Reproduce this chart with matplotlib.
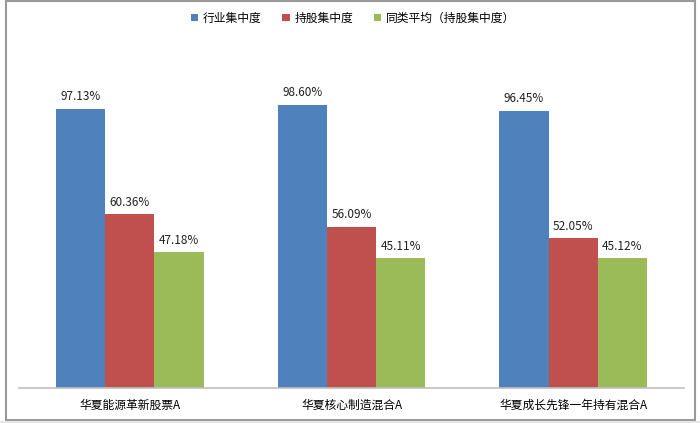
import numpy as np
import matplotlib
matplotlib.use('Agg')
import matplotlib.pyplot as plt
from matplotlib.patches import Rectangle

plt.rcParams['font.family'] = ['Noto Sans CJK SC', 'DejaVu Sans']

funds = ['华夏能源革新股票A', '华夏核心制造混合A', '华夏成长先锋一年持有混合A']
series = ['行业集中度', '持股集中度', '同类平均（持股集中度）']
industry = [97.13, 98.60, 96.45]
holding = [60.36, 56.09, 52.05]
peer_avg = [47.18, 45.11, 45.12]
colors = ['#4F81BD', '#C0504D', '#9BBB59']

W, H = 700, 423
fig = plt.figure(figsize=(W / 100, H / 100), dpi=100)
ax = fig.add_axes([19 / W, 1 - 388 / H, (684 - 19) / W, (388 - 43) / H])

x = np.arange(len(funds))
w = 0.222
for i, (vals, c, name) in enumerate(zip([industry, holding, peer_avg], colors, series)):
    bars = ax.bar(x + (i - 1) * w, vals, w, color=c, label=name)
    for b, v in zip(bars, vals):
        ax.text(b.get_x() + b.get_width() / 2, v + 2, '%.2f%%' % v,
                ha='center', va='bottom', fontsize=8.5, color='#222222')

ax.set_xlim(-0.5, 2.5)
ax.set_ylim(0, 120)
ax.set_yticks([])
ax.set_xticks(x)
ax.set_xticklabels(funds, fontsize=8.5)
ax.tick_params(axis='x', length=0, pad=8)
for s in ['top', 'right', 'left']:
    ax.spines[s].set_visible(False)
ax.spines['bottom'].set_color('#BFBFBF')
ax.spines['bottom'].set_linewidth(1.2)

leg = fig.legend(loc='center', bbox_to_anchor=(353 / W, 1 - 18 / H), ncol=3,
                 frameon=False, fontsize=8.5, handlelength=0.6, handleheight=0.6,
                 handletextpad=0.4, columnspacing=1.8)

# chart border
fig.patches.append(Rectangle((5.5 / W, 1 - 420 / H), (695 - 5.5) / W, (420 - 1.5) / H,
                             transform=fig.transFigure, fill=False,
                             edgecolor='#9A9A9A', linewidth=1.5))
fig.patches.append(Rectangle((0, 0), 1, 2 / H, transform=fig.transFigure,
                             color='#E6E6E6', linewidth=0))

fig.savefig('out.png', dpi=100)
